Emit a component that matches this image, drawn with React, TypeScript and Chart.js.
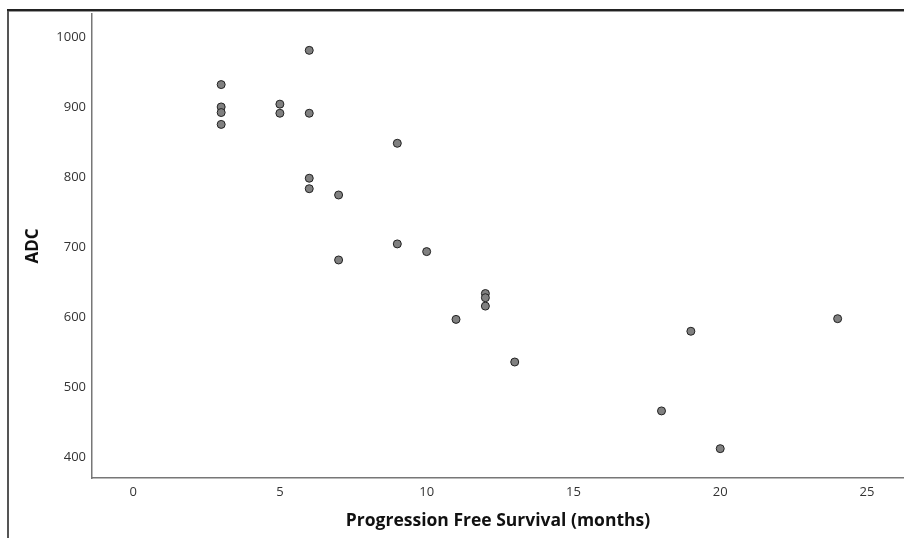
import React, { useEffect, useRef } from "react";
import { Chart, registerables } from "chart.js";

Chart.register(...registerables);

const pfsMonths = [3, 3, 3, 3, 5, 5, 6, 6, 6, 6, 7, 7, 9, 9, 10, 11, 12, 12, 12, 13, 18, 19, 20, 24];
const adcValues = [933, 901, 893, 876, 905, 892, 982, 892, 799, 784, 775, 682, 849, 705, 694, 597, 634, 628, 616, 536, 466, 580, 412, 598];
const xTickValues = [0, 5, 10, 15, 20, 25];
const yTickValues = [400, 500, 600, 700, 800, 900, 1000];
const xAxisTitle = "Progression Free Survival (months)";
const yAxisTitle = "ADC";

const framePlugin = {
  id: "frame",
  beforeDraw(chart: any) {
    const ctx = chart.ctx;
    ctx.save();
    ctx.fillStyle = "#ffffff";
    ctx.fillRect(0, 0, chart.width, chart.height);
    ctx.fillStyle = "#555555";
    ctx.fillRect(7, 9, 2, chart.height - 9);
    ctx.fillStyle = "#222222";
    ctx.fillRect(7, 9, chart.width - 7, 2);
    ctx.fillStyle = "#999999";
    ctx.fillRect(9, 11, chart.width - 9, 1);
    ctx.restore();
  },
};

export default function App() {
  const ref = useRef<HTMLCanvasElement>(null);
  useEffect(() => {
    if (!ref.current) return;
    const points = pfsMonths.map((x, i) => ({ x, y: adcValues[i] }));
    const chart = new Chart(ref.current, {
      type: "scatter",
      data: {
        datasets: [
          {
            data: points,
            backgroundColor: "#808080",
            borderColor: "#222222",
            borderWidth: 1,
            pointRadius: 4,
          },
        ],
      },
      options: {
        animation: false,
        responsive: false,
        devicePixelRatio: 1,
        layout: { autoPadding: false, padding: { top: 13, left: 0, right: 0, bottom: 0 } },
        plugins: { legend: { display: false }, tooltip: { enabled: false } },
        scales: {
          x: {
            type: "linear",
            min: -1.4,
            max: 26.26,
            grid: { display: false, drawTicks: false },
            border: { display: true, color: "#777777", width: 1.5 },
            afterBuildTicks: (scale: any) => {
              scale.ticks = xTickValues.map((v) => ({ value: v }));
            },
            afterFit: (scale: any) => {
              scale.height = 60;
            },
            ticks: {
              padding: 6,
              color: "#333333",
              font: { family: "Open Sans", size: 13 },
              callback: (v: any) => String(v),
            },
            title: {
              display: true,
              text: xAxisTitle,
              color: "#111111",
              font: { family: "Open Sans", size: 17.5, weight: "bold" },
              padding: { top: 0, bottom: 6 },
            },
          },
          y: {
            type: "linear",
            min: 370,
            max: 1034.3,
            grid: { display: false, drawTicks: false },
            border: { display: true, color: "#777777", width: 1.5 },
            afterBuildTicks: (scale: any) => {
              scale.ticks = yTickValues.map((v) => ({ value: v }));
            },
            afterFit: (scale: any) => {
              scale.width = 92;
            },
            ticks: {
              padding: 6,
              color: "#333333",
              font: { family: "Open Sans", size: 13 },
              callback: (v: any) => String(v),
            },
            title: {
              display: true,
              text: yAxisTitle,
              color: "#111111",
              font: { family: "Open Sans", size: 17, weight: "bold" },
              padding: { top: 23, bottom: 0 },
            },
          },
        },
      },
      plugins: [framePlugin],
    });
    return () => chart.destroy();
  }, []);
  return (
    <div style={{ position: "absolute", left: 0, top: 0, width: 904, height: 538 }}>
      <canvas ref={ref} width={904} height={538} style={{ display: "block" }} />
    </div>
  );
}
